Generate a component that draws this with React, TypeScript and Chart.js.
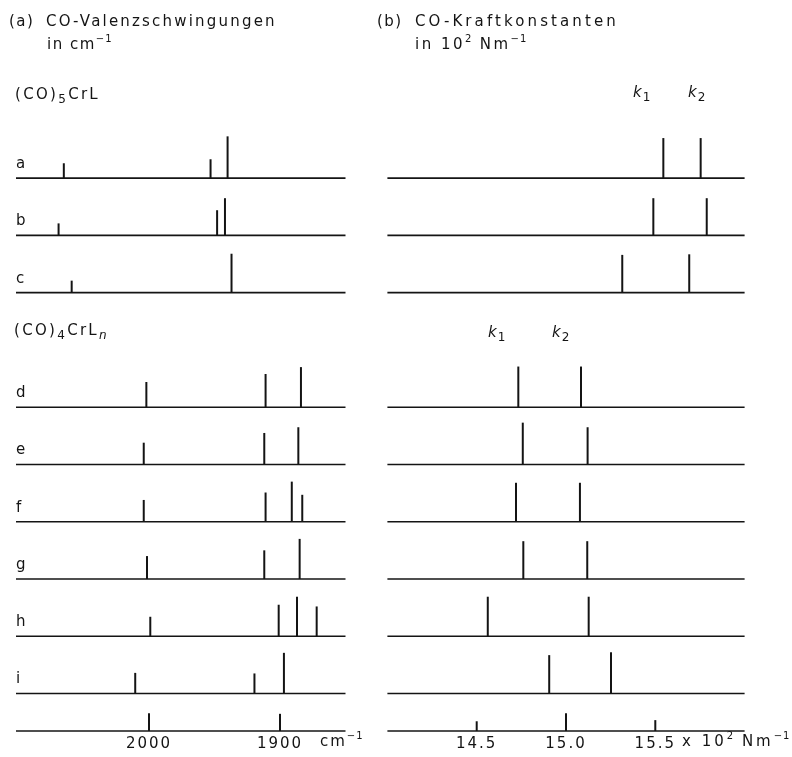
import React, { useEffect, useRef } from 'react';
import { Chart, registerables } from 'chart.js';

Chart.register(...registerables);

// ---------- data ----------
const groupOneRows = ['a', 'b', 'c'];
const groupTwoRows = ['d', 'e', 'f', 'g', 'h', 'i'];

// (a) CO stretching frequencies, cm^-1, with relative stick heights
const nuGroupOne = [
  [2065, 1953, 1940],
  [2069, 1948, 1942],
  [2059, 1937],
];
const nuGroupOneHeights = [
  [0.26, 0.33, 0.73],
  [0.21, 0.44, 0.65],
  [0.21, 0.68],
];
const nuGroupTwo = [
  [2002, 1911, 1884],
  [2004, 1912, 1886],
  [2004, 1911, 1891, 1883],
  [2001.5, 1912, 1885],
  [1999, 1901, 1887, 1872],
  [2010.5, 1919.5, 1897],
];
const nuGroupTwoHeights = [
  [0.44, 0.58, 0.7],
  [0.38, 0.55, 0.65],
  [0.38, 0.51, 0.7, 0.47],
  [0.4, 0.5, 0.7],
  [0.34, 0.55, 0.69, 0.52],
  [0.36, 0.35, 0.71],
];

// (b) CO force constants k1, k2 in 10^2 N m^-1
const kGroupOne = [
  [15.545, 15.754],
  [15.489, 15.788],
  [15.315, 15.69],
];
const kGroupOneHeights = [
  [0.7, 0.7],
  [0.65, 0.65],
  [0.66, 0.67],
];
const kGroupTwo = [
  [14.733, 15.084],
  [14.758, 15.121],
  [14.72, 15.078],
  [14.761, 15.119],
  [14.562, 15.127],
  [14.906, 15.252],
];
const kGroupTwoHeights = [
  [0.71, 0.71],
  [0.73, 0.65],
  [0.68, 0.68],
  [0.66, 0.66],
  [0.69, 0.69],
  [0.67, 0.72],
];

// axis ticks
const nuTickValues = [2000, 1900];
const nuTickHeights = [0.31, 0.3];
const kTickValues = [14.5, 15.0, 15.5];
const kTickHeights = [0.17, 0.31, 0.19];

const nuRange = { min: 1850, max: 2101.5 };
const kRange = { min: 14.0, max: 16.0 };

// ---------- layout helpers ----------
const INK = '#141414';
const FONT = "'DejaVu Sans', sans-serif";
const allRows = [...groupOneRows, ...groupTwoRows];
// slot index of each row (one empty slot for the second heading)
const rowSlots = [
  ...groupOneRows.map((_, i) => i),
  ...groupTwoRows.map((_, i) => groupOneRows.length + 1 + i),
];
const axisSlot = rowSlots[rowSlots.length - 1] + 0.655;
const yMin = -2.5;

function seg(points: { x: number; y: number }[], width: number) {
  return {
    type: 'line' as const,
    data: points,
    borderColor: INK,
    backgroundColor: INK,
    borderWidth: width,
    pointRadius: 0,
    showLine: true,
    fill: false,
    tension: 0,
    clip: false as any,
    borderCapStyle: 'butt' as const,
  };
}

function buildDatasets(
  values: number[][],
  heights: number[][],
  range: { min: number; max: number },
  ticks: number[],
  tickHeights: number[]
) {
  const ds: any[] = [];
  rowSlots.forEach((slot, r) => {
    ds.push(seg([{ x: range.min, y: slot }, { x: range.max, y: slot }], 1.6));
    values[r].forEach((v, j) => {
      ds.push(seg([{ x: v, y: slot }, { x: v, y: slot - heights[r][j] }], 2));
    });
  });
  ds.push(seg([{ x: range.min, y: axisSlot }, { x: range.max, y: axisSlot }], 1.6));
  ticks.forEach((t, j) => {
    ds.push(seg([{ x: t, y: axisSlot }, { x: t, y: axisSlot - tickHeights[j] }], 2));
  });
  return ds;
}

const spacingPlugin = {
  id: 'letterSpacing',
  beforeDraw(chart: any) {
    (chart.ctx as any).letterSpacing = '2px';
  },
};

function makeChart(
  canvas: HTMLCanvasElement,
  datasets: any[],
  range: { min: number; max: number },
  reverse: boolean,
  tickValues: number[],
  fmt: (v: number) => string,
  padding: { left: number; right: number },
  showRows: boolean
) {
  return new Chart(canvas, {
    type: 'scatter',
    data: { datasets },
    plugins: [spacingPlugin],
    options: {
      animation: false,
      responsive: false,
      devicePixelRatio: 1,
      events: [],
      layout: { padding: { left: padding.left, right: padding.right, top: 35, bottom: 0 } },
      plugins: { legend: { display: false }, tooltip: { enabled: false }, title: { display: false } },
      scales: {
        x: {
          type: 'linear',
          min: range.min,
          max: range.max,
          reverse,
          grid: { display: false, drawTicks: false },
          border: { display: false },
          afterBuildTicks: (scale: any) => {
            scale.ticks = tickValues.map((v) => ({ value: v }));
          },
          afterFit: (scale: any) => {
            scale.height = 26;
          },
          ticks: {
            padding: 4,
            autoSkip: false,
            maxRotation: 0,
            color: INK,
            font: { family: FONT, size: 15 },
            callback: (v: any) => fmt(Number(v)),
          },
        },
        y: {
          type: 'linear',
          min: yMin,
          max: axisSlot,
          reverse: true,
          display: showRows,
          grid: { display: false, drawTicks: false },
          border: { display: false },
          afterBuildTicks: (scale: any) => {
            scale.ticks = rowSlots.map((s) => ({ value: s }));
          },
          afterFit: (scale: any) => {
            scale.width = 0;
          },
          ticks: {
            mirror: true,
            padding: 0,
            labelOffset: -14,
            autoSkip: false,
            color: INK,
            font: { family: FONT, size: 15 },
            callback: (_v: any, i: number) => allRows[i],
          },
        },
      },
    } as any,
  });
}

const T = (props: { x: number; y: number; size?: number; ls?: number; italic?: boolean; children: any }) => (
  <div
    style={{
      position: 'absolute',
      left: props.x,
      top: props.y,
      fontFamily: FONT,
      fontSize: props.size ?? 15,
      lineHeight: 1,
      letterSpacing: (props.ls ?? 2.5) + 'px',
      whiteSpace: 'nowrap',
      color: INK,
      fontStyle: props.italic ? 'italic' : 'normal',
    }}
  >
    {props.children}
  </div>
);
const Sup = ({ children }: { children: any }) => (
  <span style={{ fontSize: 10, position: 'relative', top: -7, letterSpacing: '1px' }}>{children}</span>
);
const Sub = ({ children, italic }: { children: any; italic?: boolean }) => (
  <span style={{ fontSize: 12, position: 'relative', top: 4, fontStyle: italic ? 'italic' : 'normal' }}>{children}</span>
);

export default function App() {
  const leftRef = useRef<HTMLCanvasElement>(null);
  const rightRef = useRef<HTMLCanvasElement>(null);

  useEffect(() => {
    const left = makeChart(
      leftRef.current!,
      buildDatasets(
        [...nuGroupOne, ...nuGroupTwo],
        [...nuGroupOneHeights, ...nuGroupTwoHeights],
        nuRange,
        nuTickValues,
        nuTickHeights
      ),
      nuRange,
      true,
      nuTickValues,
      (v) => String(v),
      { left: 16, right: 34.5 },
      true
    );
    const right = makeChart(
      rightRef.current!,
      buildDatasets(
        [...kGroupOne, ...kGroupTwo],
        [...kGroupOneHeights, ...kGroupTwoHeights],
        kRange,
        kTickValues,
        kTickHeights
      ),
      kRange,
      false,
      kTickValues,
      (v) => v.toFixed(1),
      { left: 7.4, right: 47.4 },
      false
    );
    return () => {
      left.destroy();
      right.destroy();
    };
  }, []);

  return (
    <div style={{ position: 'absolute', left: 0, top: 0, width: 792, height: 757, background: '#fff', overflow: 'hidden' }}>
      <canvas ref={leftRef} width={380} height={757} style={{ position: 'absolute', left: 0, top: 0 }} />
      <canvas ref={rightRef} width={412} height={757} style={{ position: 'absolute', left: 380, top: 0 }} />

      <T x={9} y={14.3} ls={1.5}>(a)</T>
      <T x={46} y={14.3} ls={2.2}>CO-Valenzschwingungen</T>
      <T x={47} y={36.6} ls={1.5}>
        in cm<Sup>−1</Sup>
      </T>
      <T x={377} y={14.3} ls={1.5}>(b)</T>
      <T x={415} y={14.3} ls={3.1}>CO-Kraftkonstanten</T>
      <T x={415} y={36.6}>
        in 10<Sup>2</Sup> Nm<Sup>−1</Sup>
      </T>

      <T x={15} y={86.5} size={15} ls={2.3}>
        (CO)<Sub>5</Sub>CrL
      </T>
      <T x={14} y={322.5} size={15} ls={2.3}>
        (CO)<Sub>4</Sub>CrL<Sub italic>n</Sub>
      </T>

      <T x={633} y={85} italic ls={1}>
        k<Sub>1</Sub>
      </T>
      <T x={688} y={85} italic ls={1}>
        k<Sub>2</Sub>
      </T>
      <T x={488} y={324.5} italic ls={1}>
        k<Sub>1</Sub>
      </T>
      <T x={552} y={324.5} italic ls={1}>
        k<Sub>2</Sub>
      </T>

      <T x={320} y={734.3} ls={2}>
        cm<Sup>−1</Sup>
      </T>
      <T x={682} y={734.3} ls={3}>
        x 10<Sup>2</Sup> Nm<Sup>−1</Sup>
      </T>
    </div>
  );
}
